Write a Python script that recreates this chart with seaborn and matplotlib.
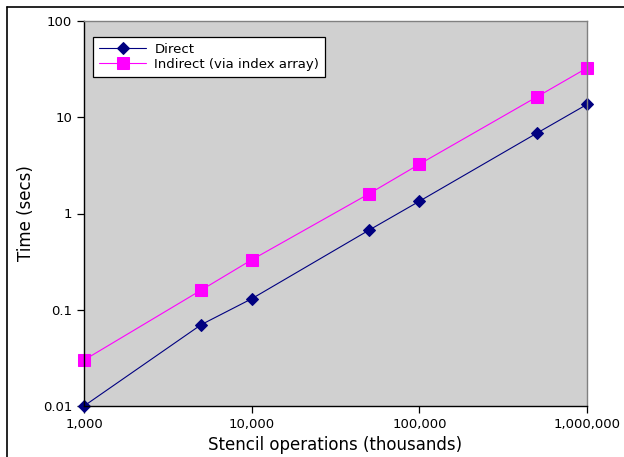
import numpy as np
import pandas as pd
import matplotlib
matplotlib.use("Agg")
import matplotlib.pyplot as plt
import seaborn as sns
from matplotlib.lines import Line2D

# data
ops = [1000, 5000, 10000, 50000, 100000, 500000, 1000000]
direct = [0.01, 0.07, 0.13, 0.67, 1.34, 6.8, 13.6]
indirect = [0.03, 0.16, 0.33, 1.6, 3.25, 16.2, 32.5]

x_ticks = [1000, 10000, 100000, 1000000]
x_tick_labels = ["1,000", "10,000", "100,000", "1,000,000"]
y_ticks = [0.01, 0.1, 1, 10, 100]
y_tick_labels = ["0.01", "0.1", "1", "10", "100"]

sns.set_style("ticks")
plt.rcParams['font.family'] = ['DejaVu Sans']
plt.rcParams['text.color'] = "black"
plt.rcParams['axes.labelcolor'] = "black"

fig = plt.figure(figsize=(6.24, 4.57), dpi=100)
ax = fig.add_axes([84/624, 1 - 406/457, (587 - 84)/624, (406 - 21)/457])
ax.set_facecolor("#d0d0d0")

sns.lineplot(x=ops, y=direct, ax=ax, color="#000080", marker="D",
             markersize=6, markeredgecolor="#000080", linewidth=0.8,
             label="Direct", clip_on=False)
sns.lineplot(x=ops, y=indirect, ax=ax, color="#ff00ff", marker="s",
             markersize=8, markeredgecolor="#ff00ff", linewidth=0.8,
             label="Indirect (via index array)", clip_on=False)

ax.set_xscale("log")
ax.set_yscale("log")
ax.set_xlim(1000, 1000000)
ax.set_ylim(0.01, 100)
ax.set_xticks(x_ticks)
ax.set_xticklabels(x_tick_labels)
ax.set_yticks(y_ticks)
ax.set_yticklabels(y_tick_labels)
ax.minorticks_off()
ax.tick_params(axis="both", labelsize=9.5, length=5, width=0.9,
               colors="black", labelcolor="black")

ax.set_xlabel("Stencil operations (thousands)", fontsize=12, color="black")
ax.set_ylabel("Time (secs)", fontsize=12, color="black")
ax.xaxis.set_label_coords(0.5, -0.077)
ax.yaxis.set_label_coords(-0.098, 0.5)

for side in ["left", "bottom"]:
    ax.spines[side].set_color("black")
    ax.spines[side].set_linewidth(1.0)
for side in ["top", "right"]:
    ax.spines[side].set_color("#808080")
    ax.spines[side].set_linewidth(1.0)

leg = ax.legend(loc="upper left", bbox_to_anchor=(0.018, 0.958),
                borderaxespad=0, fancybox=False, framealpha=1,
                edgecolor="black", fontsize=9.5, handlelength=3.6,
                borderpad=0.45, labelspacing=0.15, handletextpad=0.6)
leg.get_frame().set_linewidth(0.9)
for t in leg.get_texts():
    t.set_color("black")

# outer frame of the figure (left and top edges)
fig.add_artist(Line2D([7/624, 7/624], [0, 1 - 7/457], color="black", linewidth=1.2,
                      transform=fig.transFigure))
fig.add_artist(Line2D([7/624, 1], [1 - 7/457, 1 - 7/457], color="black", linewidth=1.2,
                      transform=fig.transFigure))

fig.savefig("out.png", dpi=100)
